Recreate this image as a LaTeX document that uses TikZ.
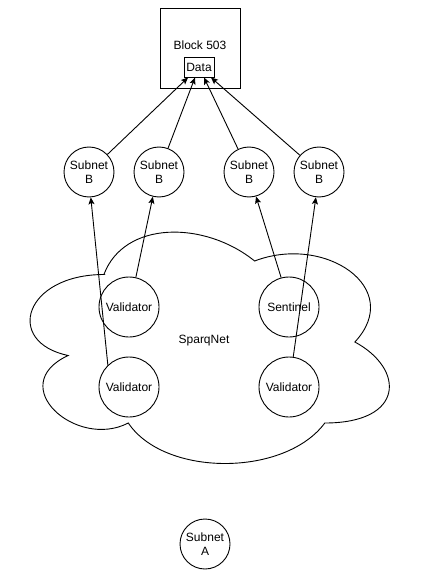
\documentclass[tikz,border=0pt]{standalone}
\usepackage{fontspec}
\setmainfont{Liberation Sans}
\usetikzlibrary{arrows.meta}
\begin{document}
\begin{tikzpicture}[x=1pt, y=-1pt, ->, >={Stealth[length=7pt, width=6pt, inset=1.5pt]}, line width=0.9pt, every node/.style={font=\fontsize{12}{14}\selectfont, align=center, inner sep=0pt}, subnet/.style={draw, circle, minimum size=50pt}, peer/.style={draw, circle, minimum size=60pt}]

	\useasboundingbox (0,0) rectangle (420,572);

	% cloud behind the peers
	\begin{scope}[shift={(4,207)}, xscale=401, yscale=270]
		\draw [-] (0.25,0.25) .. controls (0.05,0.25) and (0,0.5) .. (0.16,0.55)
			.. controls (0,0.66) and (0.18,0.9) .. (0.31,0.8)
			.. controls (0.4,1) and (0.7,1) .. (0.8,0.8)
			.. controls (1,0.8) and (1,0.6) .. (0.875,0.5)
			.. controls (1,0.3) and (0.8,0.1) .. (0.625,0.2)
			.. controls (0.5,0.05) and (0.3,0.05) .. cycle;
	\end{scope}
	\node (SN) at (204,341) {SparqNet};

	\node [draw, minimum width=80pt, minimum height=80pt, text depth=6pt] (BL) at (200,48) {Block 503};
	\node [draw, minimum width=30pt, minimum height=20pt] (D) at (199,67) {Data};

	\node [subnet] (SB1) at (89,172) {Subnet\\B};
	\node [subnet] (SB2) at (159,172) {Subnet\\B};
	\node [subnet] (SB3) at (249,172) {Subnet\\B};
	\node [subnet] (SB4) at (319,172) {Subnet\\B};

	\node [peer] (V1) at (129,307) {Validator};
	\node [peer] (S) at (289,307) {Sentinel};
	\node [peer] (V2) at (129,387) {Validator};
	\node [peer] (V3) at (289,387) {Validator};

	\node [subnet] (SA) at (205,544) {Subnet\\A};

	\draw (SB1) -- (D);
	\draw (SB2) -- (D);
	\draw (SB3) -- (D);
	\draw (SB4) -- (D);

	\draw (V2.134) -- (SB1.274);
	\draw (V1.77) -- (SB2.256);
	\draw (S.105) -- (SB3.286);
	\draw (V3.82) -- (SB4.263);

\end{tikzpicture}
\end{document}
